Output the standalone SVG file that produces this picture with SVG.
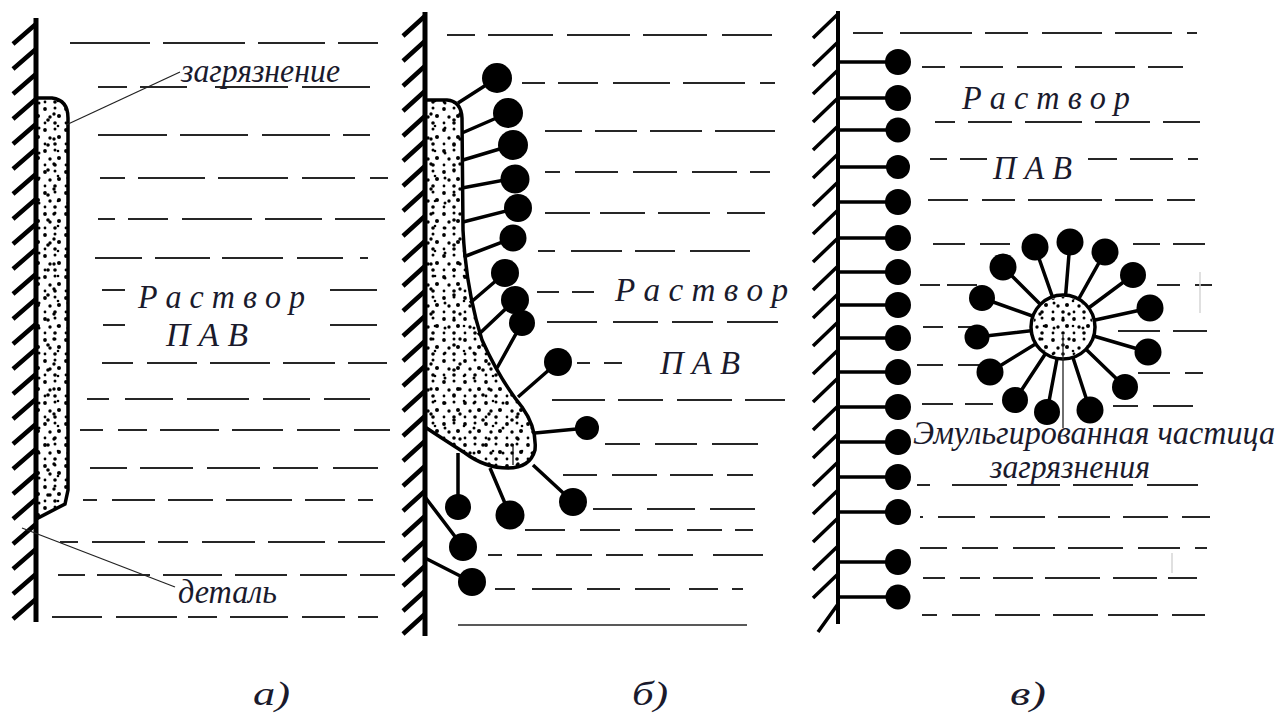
<svg xmlns="http://www.w3.org/2000/svg" width="1284" height="724" viewBox="0 0 1284 724">
  <defs>
    <!-- two stipple tiles of different size, stacked to break up the repeat -->
    <pattern id="stipA" width="21" height="21" patternUnits="userSpaceOnUse">
      <circle cx="3" cy="4" r="1.9"/><circle cx="13" cy="3" r="1.5"/><circle cx="17" cy="11" r="2"/>
      <circle cx="8" cy="12" r="1.7"/><circle cx="3" cy="18" r="1.4"/><circle cx="13" cy="18" r="1.8"/>
    </pattern>
    <pattern id="stipB" width="29" height="25" patternUnits="userSpaceOnUse" x="4" y="7">
      <circle cx="6" cy="21" r="1.5"/><circle cx="21" cy="7" r="1.7"/><circle cx="25" cy="19" r="1.3"/>
      <circle cx="15" cy="13" r="1.8"/>
    </pattern>
  </defs>
  <style>
    .wall{stroke:#000;stroke-width:5;fill:none}
    .hatch{stroke:#000;stroke-width:4.5;fill:none}
    .hatchc{stroke:#000;stroke-width:3.5;fill:none}
    .liq{stroke:#262626;stroke-width:2.2;fill:none}
    .dirt{fill:#fff;stroke:#000;stroke-width:3.5}
    .tail{stroke:#000;stroke-width:3.5;fill:none}
    .head{fill:#000}
    .lbl{font-family:"Liberation Serif","DejaVu Serif","Noto Serif",serif;font-style:italic;font-size:33px;fill:#1a1a2c}
    .big{font-size:34px}
    .lead{stroke:#222;stroke-width:1.3;fill:none}
    .faint{stroke:#d6d6d6;stroke-width:1.5;fill:none}
  </style>
  <rect width="1284" height="724" fill="#fff"/>

  <!-- panel a: part with a layer of dirt -->
  <g id="panel-a">
    <path class="liq" d="M70,43H150M163,43H245M258,43H325M338,43H378
      M98,87H127M140,87H187M215,87H288M302,87H370
      M98,135H167M180,135H248M262,135H330M343,135H370
      M100,178H125M138,178H205M218,178H288M302,178H355M370,178H388
      M98,219H115M128,219H168M182,219H252M265,219H322M335,219H385
      M95,258H142M155,258H210M222,258H283M297,258H343M360,258H368
      M102,290H125M330,290H377
      M103,325H125M330,325H377
      M102,363H133M147,363H197M210,363H270M283,363H335M348,363H387
      M87,399H109M125,399H173M187,399H249M263,399H310M324,399H370
      M80,430H103M118,430H147M160,430H219M232,430H283M297,430H340M354,430H390
      M90,468H127M140,468H193M207,468H260M273,468H318M333,468H378
      M83,500H97M112,500H155M168,500H213M226,500H292M305,500H345M358,500H373
      M60,542H78M92,542H145M158,542H188M202,542H255M268,542H325M338,542H385
      M58,575H85M97,575H150M163,575H222M235,575H287M300,575H347M360,575H395
      M52,617H102M116,617H177M188,617H217M230,617H288M302,617H345M358,617H378"/>
    <path class="dirt" d="M36,98H52Q68,100 68,118V490L65,504L36,519Z"/>
    <path d="M36,98H52Q68,100 68,118V490L65,504L36,519Z" fill="url(#stipA)"/>
    <path d="M36,98H52Q68,100 68,118V490L65,504L36,519Z" fill="url(#stipB)"/>
    <path class="hatch" d="M36,24l-23,20M36,49l-23,20M36,74l-23,20M36,99l-23,20M36,124l-23,20M36,149l-23,20
      M36,174l-23,20M36,199l-23,20M36,224l-23,20M36,249l-23,20M36,274l-23,20M36,299l-23,20
      M36,324l-23,20M36,349l-23,20M36,374l-23,20M36,399l-23,20M36,424l-23,20M36,449l-23,20
      M36,474l-23,20M36,499l-23,20M36,524l-23,20M36,549l-23,20M36,574l-23,20M36,599l-23,20"/>
    <line class="wall" x1="36" y1="18" x2="36" y2="622"/>
    <text class="lbl" x="181" y="82" textLength="159" lengthAdjust="spacingAndGlyphs">загрязнение</text>
    <text class="lbl" x="138" y="308" textLength="167" lengthAdjust="spacingAndGlyphs">Р а с т в о р</text>
    <text class="lbl" x="166" y="346" textLength="82" lengthAdjust="spacingAndGlyphs">П А В</text>
    <text class="lbl" x="178" y="603" textLength="99" lengthAdjust="spacingAndGlyphs">деталь</text>
    <text class="lbl big" x="253" y="705" textLength="37" lengthAdjust="spacingAndGlyphs">а)</text>
  </g>

  <!-- panel b: surfactant molecules adsorbing on the dirt and the surface -->
  <g id="panel-b">
    <path class="liq" d="M447,35H475M488,35H553M567,35H630M643,35H707M722,35H772
      M522,83H545M558,83H598M613,83H670M683,83H745M760,83H775
      M545,131H582M595,131H637M650,131H702M715,131H775
      M545,172H560M575,172H618M633,172H677M692,172H737M750,172H770
      M545,213H590M600,213H645M658,213H710M727,213H765
      M538,251H555M571,251H622M635,251H675M690,251H750
      M537,292H559M572,292H594
      M547,322H597M613,322H658M672,322H713M727,322H778
      M577,363H590M604,363H622
      M552,400H605M618,400H663M677,400H732M745,400H785
      M605,444H640M655,444H697M712,444H758
      M563,475H597M612,475H657M670,475H713M727,475H753
      M593,509H632M647,509H695M710,509H755
      M525,530H565M580,530H620M635,530H673M687,530H722M735,530H753
      M488,555H502M517,555H542M556,555H592M606,555H643M658,555H693M713,555H763
      M495,589H515M532,589H572M587,589H620M635,589H670M689,589H718M732,589H743"/>
    <line x1="458" y1="625" x2="747" y2="625" stroke="#222" stroke-width="1.6"/>
    <path class="dirt" d="M425,100H447Q461,101 462,118L463,230Q466,290 482,340Q500,380 522,407Q537,428 535,450Q530,468 508,468Q485,468 465,453Q440,437 425,427Z"/>
    <path d="M425,100H447Q461,101 462,118L463,230Q466,290 482,340Q500,380 522,407Q537,428 535,450Q530,468 508,468Q485,468 465,453Q440,437 425,427Z" fill="url(#stipA)"/>
    <path d="M425,100H447Q461,101 462,118L463,230Q466,290 482,340Q500,380 522,407Q537,428 535,450Q530,468 508,468Q485,468 465,453Q440,437 425,427Z" fill="url(#stipB)"/>
    <line x1="513" y1="444" x2="513" y2="465" stroke="#000" stroke-width="1.2"/>
    <path class="tail" d="M458,103L497,78M462,133L508,113M463,160L513,145M462,188L515,178M463,222L518,208M466,256L513,238
      M470,303L505,273M478,335L515,300M497,368L522,323M518,397L558,362M535,433L587,428M533,465L573,502
      M490,468L510,515M458,453L458,507M425,497L463,547M425,558L472,582"/>
    <g class="head">
      <circle cx="497" cy="78" r="15"/><circle cx="508" cy="113" r="15"/><circle cx="513" cy="145" r="15"/>
      <circle cx="515" cy="179" r="14.5"/><circle cx="518" cy="208" r="14"/><circle cx="513" cy="238" r="13.5"/>
      <circle cx="505" cy="273" r="14"/><circle cx="515" cy="300" r="14"/><circle cx="522" cy="323" r="13"/>
      <circle cx="558" cy="362" r="14"/><circle cx="587" cy="428" r="12"/><circle cx="573" cy="502" r="14"/>
      <circle cx="510" cy="515" r="14.5"/><circle cx="458" cy="507" r="13"/><circle cx="463" cy="547" r="14"/>
      <circle cx="472" cy="582" r="14"/>
    </g>
    <path class="hatch" d="M425,16l-22,20M425,41l-22,20M425,66l-22,20M425,91l-22,20M425,116l-22,20M425,141l-22,20
      M425,166l-22,20M425,191l-22,20M425,216l-22,20M425,241l-22,20M425,266l-22,20M425,291l-22,20
      M425,316l-22,20M425,341l-22,20M425,366l-22,20M425,391l-22,20M425,416l-22,20M425,441l-22,20
      M425,466l-22,20M425,491l-22,20M425,516l-22,20M425,541l-22,20M425,566l-22,20M425,591l-22,20M425,614l-22,20"/>
    <line class="wall" x1="425" y1="12" x2="425" y2="636"/>
    <text class="lbl" x="615" y="301" textLength="173" lengthAdjust="spacingAndGlyphs">Р а с т в о р</text>
    <text class="lbl" x="660" y="374" textLength="80" lengthAdjust="spacingAndGlyphs">П А В</text>
    <text class="lbl big" x="632" y="705" textLength="36" lengthAdjust="spacingAndGlyphs">б)</text>
  </g>

  <!-- panel c: clean surface covered by surfactant and an emulsified particle -->
  <g id="panel-c">
    <path class="liq" d="M853,33H883M900,33H972M985,33H1028M1042,33H1102M1115,33H1172M1187,33H1197
      M922,67H945M960,67H1003M1017,67H1062M1075,67H1135M1148,67H1183
      M935,122H955M968,122H1012M1025,122H1082M1095,122H1150M1163,122H1200
      M930,159H947M960,159H987M1088,159H1117M1130,159H1173M1188,159H1198
      M928,200H968M982,200H1015M1028,200H1102M1115,200H1153M1167,200H1195
      M933,244H965M980,244H1010M1133,244H1160M1173,244H1205
      M920,285H940M947,285H977M1157,285H1180M1195,285H1212
      M923,327H943M958,327H978M1118,331H1160M1173,331H1207
      M917,365H943M958,365H980M1138,373H1170M1185,373H1203
      M922,404H953M965,404H993M1113,406H1138M1153,406H1193
      M917,485H930M952,485H1007M1017,485H1060M1073,485H1133M1147,485H1198
      M920,517H923M938,517H975M990,517H1045M1058,517H1110M1123,517H1168M1182,517H1210
      M920,548H947M962,548H998M1013,548H1055M1068,548H1123M1138,548H1180M1195,548H1207
      M923,578H945M960,578H980M993,578H1033M1045,578H1100M1113,578H1157M1168,578H1197
      M922,615H937M952,615H980M995,615H1040M1053,615H1093M1108,615H1158M1172,615H1205"/>
    <path class="faint" d="M1200,272V313M1172,553V573"/>
    <path class="hatchc" d="M838,14l-25,24M838,42l-25,24M838,70l-25,24M838,98l-25,24M838,126l-25,24M838,154l-25,24
      M838,182l-25,24M838,210l-25,24M838,238l-25,24M838,266l-25,24M838,294l-25,24M838,322l-25,24
      M838,350l-25,24M838,378l-25,24M838,406l-25,24M838,434l-25,24M838,462l-25,24M838,490l-25,24
      M838,518l-25,24M838,546l-25,24M838,574l-25,24M838,604l-20,28"/>
    <line x1="838" y1="11" x2="838" y2="624" stroke="#000" stroke-width="4"/>
    <!-- molecules standing on the cleaned wall -->
    <path class="tail" stroke-width="4" d="M838,62H898M838,98H898M838,130H898M838,167H898M838,202H898M838,238H898
      M838,272H898M838,305H898M838,338H898M838,372H898M838,407H898M838,442H898M838,477H898M838,512H898
      M838,562H898M838,597H898"/>
    <g class="head">
      <circle cx="898" cy="62" r="13"/><circle cx="898" cy="98" r="13"/><circle cx="898" cy="130" r="12.5"/>
      <circle cx="898" cy="167" r="12"/><circle cx="898" cy="202" r="13"/><circle cx="898" cy="238" r="13"/>
      <circle cx="898" cy="272" r="13"/><circle cx="898" cy="305" r="13"/><circle cx="898" cy="338" r="13"/>
      <circle cx="898" cy="372" r="13"/><circle cx="898" cy="407" r="13"/><circle cx="898" cy="442" r="13"/>
      <circle cx="898" cy="477" r="13"/><circle cx="898" cy="512" r="13"/><circle cx="898" cy="562" r="13"/>
      <circle cx="898" cy="597" r="12.5"/>
    </g>
    <text class="lbl" x="962" y="109" textLength="168" lengthAdjust="spacingAndGlyphs">Р а с т в о р</text>
    <text class="lbl" x="993" y="179" textLength="79" lengthAdjust="spacingAndGlyphs">П А В</text>
    <text class="lbl big" x="1010" y="705" textLength="36" lengthAdjust="spacingAndGlyphs">в)</text>
  </g>

  <!-- micelle: dirt droplet wrapped by surfactant -->
  <g id="micelle">
    <path class="tail" d="M1063,327L1035,247M1063,327L1070,242M1063,327L1105,252M1063,327L1133,275M1063,327L1150,308
      M1063,327L1148,352M1063,327L1125,387M1063,327L1090,410M1063,327L1047,412M1063,327L1015,400
      M1063,327L990,372M1063,327L977,337M1063,327L982,298M1063,327L1003,267"/>
    <circle class="dirt" cx="1063" cy="327" r="32"/>
    <circle cx="1063" cy="327" r="30" fill="url(#stipA)"/>
    <circle cx="1063" cy="327" r="30" fill="url(#stipB)"/>
    <g class="head">
      <circle cx="1035" cy="247" r="13.5"/><circle cx="1070" cy="242" r="13.5"/><circle cx="1105" cy="252" r="13.5"/>
      <circle cx="1133" cy="275" r="13"/><circle cx="1150" cy="308" r="13.5"/><circle cx="1148" cy="352" r="13.5"/>
      <circle cx="1125" cy="387" r="13"/><circle cx="1090" cy="410" r="13.5"/><circle cx="1047" cy="412" r="13"/>
      <circle cx="1015" cy="400" r="13"/><circle cx="990" cy="372" r="13.5"/><circle cx="977" cy="337" r="12.5"/>
      <circle cx="982" cy="298" r="13"/><circle cx="1003" cy="267" r="13.5"/>
    </g>
    <text class="lbl" x="913" y="444" textLength="362" lengthAdjust="spacingAndGlyphs">Эмульгированная частица</text>
    <text class="lbl" x="990" y="478" textLength="160" lengthAdjust="spacingAndGlyphs">загрязнения</text>
  </g>

  <!-- leader lines -->
  <g id="connectors">
    <line class="lead" x1="180" y1="72" x2="66" y2="125"/>
    <line class="lead" x1="22" y1="528" x2="175" y2="587"/>
    <line class="lead" x1="1063" y1="335" x2="1063" y2="428"/>
  </g>
</svg>
